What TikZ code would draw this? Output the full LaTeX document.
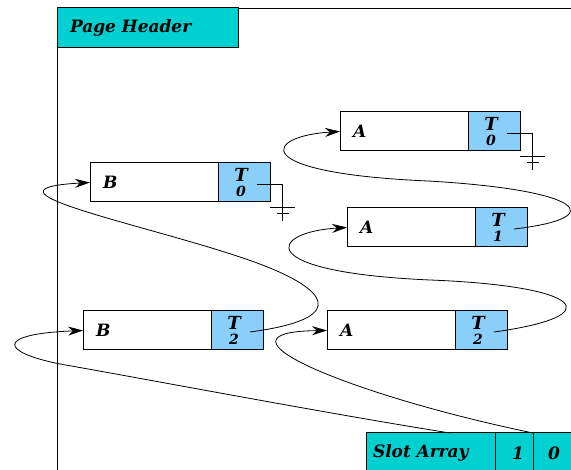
\documentclass[tikz,border=0pt]{standalone}
\usepackage{fontspec}
\setmainfont{DejaVu Serif}
\usetikzlibrary{arrows.meta, positioning}
\definecolor{hdrcyan}{RGB}{0,208,208}
\definecolor{tagblue}{RGB}{138,206,250}

% earth symbol hanging off a tag cell
\newcommand{\earth}[1]{%
	\draw (#1-x) -| ([xshift=12.5pt,yshift=-39pt]#1.east);
	\draw ([yshift=-25pt]#1.east) -- ++(25,0);
	\draw ([xshift=6.5pt,yshift=-31pt]#1.east) -- ++(12,0);}

\begin{document}
\begin{tikzpicture}[x=1pt, y=-1pt, line width=0.8pt,
	font=\fontsize{17}{21}\selectfont\bfseries\itshape,
	rec/.style = {draw, line width=1pt, fill=white, outer sep=0pt, minimum width=128pt, minimum height=39pt, text width=102pt, inner xsep=13pt, align=left, anchor=north west},
	tag/.style = {draw, line width=1pt, fill=tagblue, outer sep=0pt, minimum width=52pt, minimum height=39pt, inner sep=0pt, align=center, font=\fontsize{18}{15}\selectfont\bfseries\itshape},
	cell/.style = {draw, line width=1pt, fill=hdrcyan, outer sep=0pt, minimum height=40pt, anchor=north west},
	link/.style = {-{Stealth[length=15pt,width=9pt]}, line width=0.8pt}]
	\useasboundingbox (0,0) rectangle (571,470);
	% page frame and header
	\draw (571,8) -- (57,8) -- (57,470);
	\node[cell, text width=155pt, inner xsep=13pt, align=left] (hdr) at (57,8) {Page Header};
	% tuples
	\node[rec] (b0) at (90,163) {B};
	\node[tag] (tb0) [right=0pt of b0] {T\kern6pt\\{\fontsize{14}{14}\selectfont 0}\kern6pt};
	\node[rec] (a0) at (340,112) {A};
	\node[tag] (ta0) [right=0pt of a0] {T\kern6pt\\{\fontsize{14}{14}\selectfont 0}\kern6pt};
	\node[rec] (a1) at (347,208) {A};
	\node[tag] (ta1) [right=0pt of a1] {T\kern6pt\\{\fontsize{14}{14}\selectfont 1}\kern6pt};
	\node[rec] (b2) at (83,311) {B};
	\node[tag] (tb2) [right=0pt of b2] {T\kern6pt\\{\fontsize{14}{14}\selectfont 2}\kern6pt};
	\node[rec] (a2) at (327,311) {A};
	\node[tag] (ta2) [right=0pt of a2] {T\kern6pt\\{\fontsize{14}{14}\selectfont 2}\kern6pt};
	\foreach \t in {tb0, ta0, ta1, tb2, ta2}
		\coordinate (\t-x) at ([xshift=13pt,yshift=-1.5pt]\t.center);
	% slot array
	\node[cell, minimum width=129pt, text width=115pt, inner xsep=7pt, align=left] (slot) at (366,433) {Slot Array};
	\node[cell, minimum width=38pt, text width=20pt, inner xsep=9pt, align=right] (s1) [right=0pt of slot] {1};
	\node[cell, minimum width=42pt] (s0) [right=0pt of s1] {0};
	% null pointers
	\earth{tb0}
	\earth{ta0}
	% version chains
	\draw[link] (ta2-x) .. controls (610,316) and (585,286) .. (430,280) .. controls (250,272) and (270,232) .. (a1.west);
	\draw[link] (ta1-x) .. controls (610,218) and (585,190) .. (428,181) .. controls (245,173) and (265,136) .. (a0.west);
	\draw[link] (tb2-x) .. controls (340,320) and (335,295) .. (270,268) .. controls (180,231) and (-45,190) .. (b0.west);
	\draw[link] ([xshift=19.5pt]slot.north) .. controls (330,414) and (140,378) .. (60,364) .. controls (0,352) and (-5,334) .. (b2.west);
	\draw[link] (s1.north east) .. controls (350,395) and (200,332) .. (a2.west);
\end{tikzpicture}
\end{document}
